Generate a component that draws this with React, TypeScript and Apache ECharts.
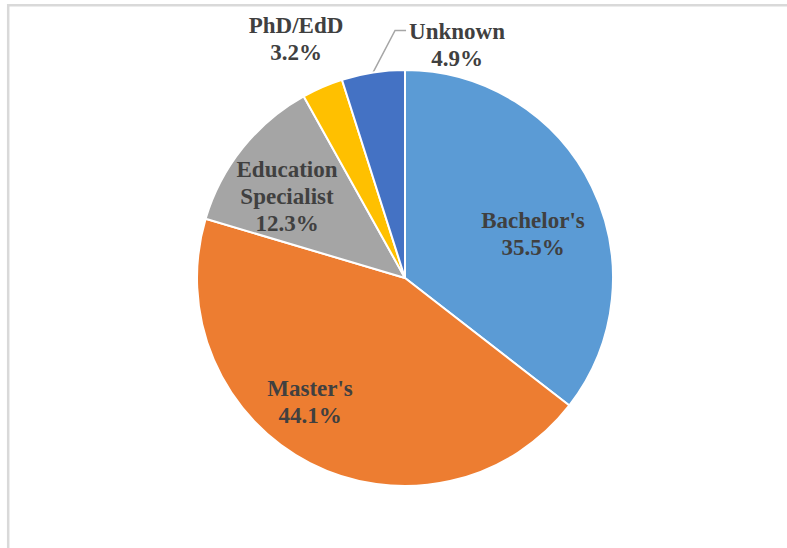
import React, { useEffect, useRef } from "react";
import * as echarts from "echarts";

const categories = ["Bachelor's", "Master's", "Education Specialist", "PhD/EdD", "Unknown"];
const percents = [35.5, 44.1, 12.3, 3.2, 4.9];
const colors = ["#5B9BD5", "#ED7D31", "#A5A5A5", "#FFC000", "#4472C4"];
const labelInside = [true, true, true, false, false];
const showLeader = [false, false, false, false, true];
// label block centres (layout only)
const labelCentres: [number, number][] = [
  [533, 234],
  [310, 402],
  [287, 196],
  [296, 39],
  [457, 45],
];

export default function App() {
  const ref = useRef<HTMLDivElement>(null);
  useEffect(() => {
    if (!ref.current) return;
    const chart = echarts.init(ref.current, null, { renderer: "svg" });
    const data = categories.map((name, i) => ({
      name,
      value: percents[i],
      itemStyle: { color: colors[i] },
      label: { position: labelInside[i] ? "inside" : "outside" },
      labelLine: { show: showLeader[i] },
    }));
    chart.setOption({
      animation: false,
      backgroundColor: "#ffffff",
      graphic: [
        {
          type: "rect",
          shape: { x: 8.2, y: 5.2, width: 820, height: 600 },
          style: { fill: "none", stroke: "#d9d9d9", lineWidth: 2.5 },
          silent: true,
        },
      ],
      series: [
        {
          type: "pie",
          center: [405, 278],
          radius: 208,
          startAngle: 90,
          clockwise: true,
          avoidLabelOverlap: false,
          itemStyle: { borderColor: "#ffffff", borderWidth: 2 },
          label: {
            show: true,
            formatter: (p: any) =>
              p.name.replace(" ", "\n") + "\n" + Number(p.value).toFixed(1) + "%",
            fontFamily: "'Liberation Serif', 'Times New Roman', serif",
            fontWeight: "bold",
            fontSize: 23,
            lineHeight: 27,
            color: "#404040",
            align: "center",
          },
          labelLine: {
            length: 30,
            length2: 12,
            smooth: false,
            lineStyle: { color: "#a6a6a6", width: 1.5 },
          },
          labelLayout: (p: any) => {
            const [cx, cy] = labelCentres[p.dataIndex];
            const out: any = { x: cx, y: cy, align: "center", verticalAlign: "middle" };
            if (showLeader[p.dataIndex] && p.labelLinePoints && p.labelLinePoints.length) {
              const anchor = p.labelLinePoints[0];
              const left = cx - p.labelRect.width / 2;
              const lineY = cy - p.labelRect.height / 4 - 1;
              out.labelLinePoints = [
                [anchor[0], anchor[1]],
                [left - 14, lineY],
                [left - 3, lineY],
              ];
            }
            return out;
          },
          emphasis: { disabled: true },
          data,
        },
      ],
    });
    return () => chart.dispose();
  }, []);
  return (
    <div
      ref={ref}
      style={{ position: "absolute", left: 0, top: 0, width: 787, height: 548 }}
    />
  );
}
